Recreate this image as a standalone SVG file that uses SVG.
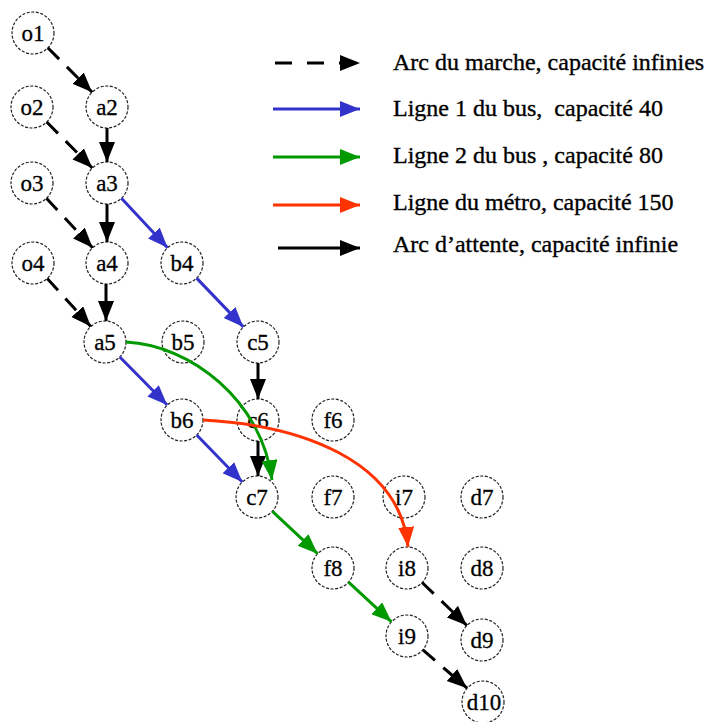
<svg xmlns="http://www.w3.org/2000/svg" width="709" height="722" viewBox="0 0 709 722">
<style>
.n circle{fill:none;stroke:#222;stroke-width:1.2;stroke-dasharray:3 1.6}
.n text{font-family:"Liberation Serif","Times New Roman",serif;font-size:23px;text-anchor:middle;fill:#000;stroke:#000;stroke-width:0.3}
.e{fill:none;stroke-width:3}
.k{stroke:#000}
.d{stroke:#000;stroke-dasharray:16 11}
.b{stroke:#3333CC}
.g{stroke:#009900}
.r{stroke:#FF3300}
.lg{font-family:"Liberation Serif","Times New Roman",serif;font-size:24px;fill:#000;stroke:#000;stroke-width:0.35;white-space:pre}
</style>
<defs>
<marker id="mk" markerUnits="userSpaceOnUse" markerWidth="22" markerHeight="18" refX="20" refY="8" orient="auto"><path d="M0,0 L20,8 L0,16 z" fill="#000"/></marker>
<marker id="mb" markerUnits="userSpaceOnUse" markerWidth="22" markerHeight="18" refX="20" refY="8" orient="auto"><path d="M0,0 L20,8 L0,16 z" fill="#3333CC"/></marker>
<marker id="mg" markerUnits="userSpaceOnUse" markerWidth="22" markerHeight="18" refX="20" refY="8" orient="auto"><path d="M0,0 L20,8 L0,16 z" fill="#009900"/></marker>
<marker id="mr" markerUnits="userSpaceOnUse" markerWidth="22" markerHeight="18" refX="20" refY="8" orient="auto"><path d="M0,0 L20,8 L0,16 z" fill="#FF3300"/></marker>
</defs>
<rect width="709" height="722" fill="#fff"/>
<g id="nodes">
<g id="o1" class="n"><circle cx="33" cy="33" r="21"/><text x="33" y="41">o1</text></g>
<g id="o2" class="n"><circle cx="32" cy="107" r="21"/><text x="32" y="115">o2</text></g>
<g id="o3" class="n"><circle cx="32" cy="183" r="21"/><text x="32" y="191">o3</text></g>
<g id="o4" class="n"><circle cx="33" cy="263" r="21"/><text x="33" y="271">o4</text></g>
<g id="a2" class="n"><circle cx="107" cy="107" r="21"/><text x="107" y="115">a2</text></g>
<g id="a3" class="n"><circle cx="107" cy="183" r="21"/><text x="107" y="191">a3</text></g>
<g id="a4" class="n"><circle cx="107" cy="263" r="21"/><text x="107" y="271">a4</text></g>
<g id="a5" class="n"><circle cx="105" cy="342" r="21"/><text x="105" y="350">a5</text></g>
<g id="b4" class="n"><circle cx="182" cy="263" r="21"/><text x="182" y="271">b4</text></g>
<g id="b5" class="n"><circle cx="183" cy="342" r="21"/><text x="183" y="350">b5</text></g>
<g id="b6" class="n"><circle cx="182" cy="420" r="21"/><text x="182" y="428">b6</text></g>
<g id="c5" class="n"><circle cx="258" cy="342" r="21"/><text x="258" y="350">c5</text></g>
<g id="c6" class="n"><circle cx="258" cy="420" r="21"/><text x="258" y="428">c6</text></g>
<g id="c7" class="n"><circle cx="257" cy="497" r="21"/><text x="257" y="505">c7</text></g>
<g id="f6" class="n"><circle cx="333" cy="420" r="21"/><text x="333" y="428">f6</text></g>
<g id="f7" class="n"><circle cx="333" cy="497" r="21"/><text x="333" y="505">f7</text></g>
<g id="f8" class="n"><circle cx="333" cy="568" r="21"/><text x="333" y="576">f8</text></g>
<g id="i7" class="n"><circle cx="404" cy="497" r="21"/><text x="404" y="505">i7</text></g>
<g id="i8" class="n"><circle cx="407" cy="568" r="21"/><text x="407" y="576">i8</text></g>
<g id="i9" class="n"><circle cx="407" cy="636" r="21"/><text x="407" y="644">i9</text></g>
<g id="d7" class="n"><circle cx="482" cy="497" r="21"/><text x="482" y="505">d7</text></g>
<g id="d8" class="n"><circle cx="482" cy="568" r="21"/><text x="482" y="576">d8</text></g>
<g id="d9" class="n"><circle cx="482" cy="640" r="21"/><text x="482" y="648">d9</text></g>
<g id="d10" class="n"><circle cx="483" cy="702" r="21"/><text x="484" y="710">d10</text></g>
</g>
<g id="connectors">
<line class="e d" x1="47.8" y1="47.8" x2="92.2" y2="92.2" marker-end="url(#mk)"/>
<line class="e d" x1="46.7" y1="122" x2="92.3" y2="168" marker-end="url(#mk)"/>
<line class="e d" x1="46.4" y1="198.3" x2="92.6" y2="247.7" marker-end="url(#mk)"/>
<line class="e d" x1="47.2" y1="278.5" x2="90.8" y2="326.5" marker-end="url(#mk)"/>
<line class="e k" x1="107" y1="128" x2="107" y2="162" marker-end="url(#mk)"/>
<line class="e k" x1="107" y1="204" x2="107" y2="242" marker-end="url(#mk)"/>
<line class="e k" x1="106" y1="284" x2="106" y2="321" marker-end="url(#mk)"/>
<line class="e b" x1="121.4" y1="198.3" x2="167.6" y2="247.7" marker-end="url(#mb)"/>
<line class="e b" x1="196.6" y1="278.1" x2="243.4" y2="326.9" marker-end="url(#mb)"/>
<line class="e b" x1="119.8" y1="357" x2="167.2" y2="405" marker-end="url(#mb)"/>
<line class="e b" x1="196.7" y1="435" x2="242.3" y2="482" marker-end="url(#mb)"/>
<line class="e k" x1="258" y1="363" x2="258" y2="399" marker-end="url(#mk)"/>
<line class="e k" x1="258" y1="441" x2="258" y2="476" marker-end="url(#mk)"/>
<path class="e g" d="M126,342 C190,345 262,400 272,480" marker-end="url(#mg)"/>
<path class="e r" d="M203,420 C300,425 400,460 408,547" marker-end="url(#mr)"/>
<line class="e g" x1="272.4" y1="511.3" x2="317.6" y2="553.7" marker-end="url(#mg)"/>
<line class="e g" x1="348.5" y1="582.2" x2="391.5" y2="621.8" marker-end="url(#mg)"/>
<line class="e d" x1="422.1" y1="582.5" x2="466.9" y2="625.5" marker-end="url(#mk)"/>
<line class="e d" x1="422.9" y1="649.8" x2="467.1" y2="688.2" marker-end="url(#mk)"/>
</g>
<g id="legend">
<line class="e" stroke="#000" stroke-width="4" stroke-dasharray="17 15" x1="275" y1="63" x2="360" y2="63" marker-end="url(#mk)"/>
<line class="e b" stroke-width="4" x1="273" y1="109" x2="360" y2="109" marker-end="url(#mb)"/>
<line class="e g" stroke-width="4" x1="273" y1="157" x2="360" y2="157" marker-end="url(#mg)"/>
<line class="e r" stroke-width="4" x1="273" y1="205" x2="360" y2="205" marker-end="url(#mr)"/>
<line class="e k" stroke-width="4" x1="278" y1="248" x2="360" y2="248" marker-end="url(#mk)"/>
<text class="lg" x="393" y="70">Arc du marche, capacité infinies</text>
<text class="lg" x="393" y="116">Ligne 1 du bus,  capacité 40</text>
<text class="lg" x="393" y="163">Ligne 2 du bus , capacité 80</text>
<text class="lg" x="393" y="210">Ligne du métro, capacité 150</text>
<text class="lg" x="393" y="252">Arc d’attente, capacité infinie</text>
</g>
</svg>
